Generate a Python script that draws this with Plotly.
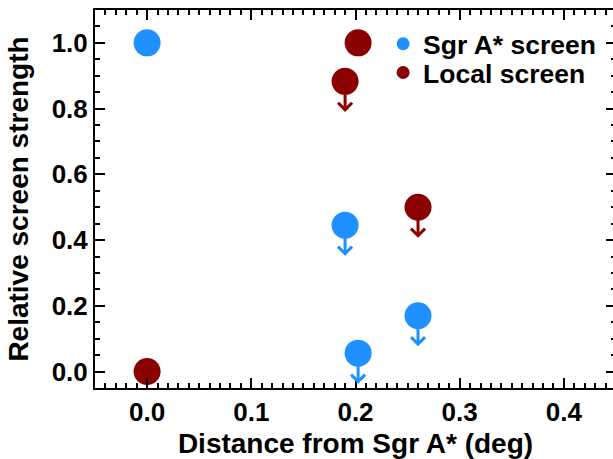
import plotly.graph_objects as go

# Data
distance = [0.0, 0.19, 0.2025, 0.26]
sgr_strength = [1.0, 0.445, 0.056, 0.17]
sgr_upper = [False, True, True, True]
local_strength = [0.0, 0.883, 1.0, 0.5]
local_upper = [False, True, False, True]

BLUE = "#1E90FF"
RED = "#8B0000"
FONT = "Liberation Sans, Arial, sans-serif"
FS = 26
FS_TITLE = 28
FS_LEG = 26.5
ARROW_DY = 0.093  # arrow length in data units

fig = go.Figure()

for name, vals, col, lg in [("<b>Sgr A* screen</b>", sgr_strength, BLUE, "legend"),
                            ("<b>Local screen</b>", local_strength, RED, "legend2")]:
    fig.add_trace(go.Scatter(x=distance, y=vals, mode="markers",
                             marker=dict(size=27, color=col, line=dict(width=0)),
                             showlegend=False, cliponaxis=False))
    fig.add_trace(go.Scatter(x=[None], y=[None], mode="markers", name=name,
                             marker=dict(size=13, color=col, line=dict(width=0)),
                             showlegend=True, legend=lg))

annotations = []
for vals, ups, col in [(sgr_strength, sgr_upper, BLUE), (local_strength, local_upper, RED)]:
    for xv, yv, up in zip(distance, vals, ups):
        if up:
            annotations.append(dict(x=xv, y=yv - ARROW_DY, ax=xv, ay=yv,
                                    xref="x", yref="y", axref="x", ayref="y",
                                    text="", showarrow=True, arrowhead=4,
                                    arrowsize=0.9, arrowwidth=3, arrowcolor=col))

axis_common = dict(showline=True, linewidth=2, linecolor="black", mirror="allticks",
                   ticks="inside", ticklen=10, tickwidth=2, tickcolor="black",
                   showgrid=False, zeroline=False, automargin=False,
                   tickprefix="<b>", ticksuffix="</b>",
                   tickfont=dict(family=FONT, size=FS, color="black"))

fig.update_layout(
    width=616, height=459,
    margin=dict(l=95, r=0, t=10, b=71),
    paper_bgcolor="white", plot_bgcolor="white",
    font=dict(family=FONT, size=FS, color="black"),
    xaxis=dict(range=[-0.05, 0.45], dtick=0.1, tick0=0, tickformat=".1f",
               minor=dict(dtick=0.01, ticks="inside", ticklen=5, tickwidth=1.5, tickcolor="black"),
               title=dict(text="<b>Distance from Sgr A* (deg)</b>", font=dict(size=FS_TITLE)),
               **axis_common),
    yaxis=dict(range=[-0.05, 1.1], dtick=0.2, tick0=0, tickformat=".1f",
               minor=dict(dtick=0.05, ticks="inside", ticklen=5, tickwidth=1.5, tickcolor="black"),
               title=dict(text="<b>Relative screen strength</b>", font=dict(size=FS_TITLE)),
               **axis_common),
    legend=dict(x=0.553, y=0.910, xanchor="left", yanchor="middle", bgcolor="rgba(0,0,0,0)",
                font=dict(family=FONT, size=FS_LEG), borderwidth=0),
    legend2=dict(x=0.553, y=0.834, xanchor="left", yanchor="middle", bgcolor="rgba(0,0,0,0)",
                 font=dict(family=FONT, size=FS_LEG), borderwidth=0),
    annotations=annotations,
)

fig.write_html("out.html", config={"displayModeBar": False},
               post_script="document.body.style.margin='0';document.body.style.overflow='hidden';")
